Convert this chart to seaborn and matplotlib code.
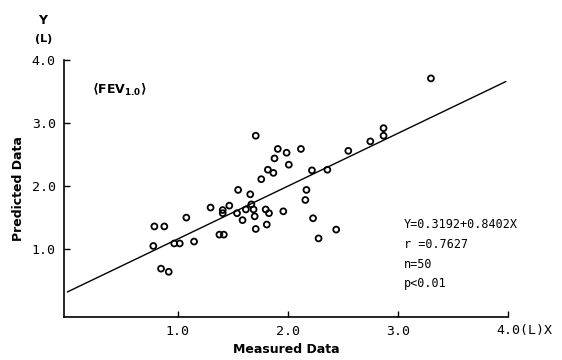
import matplotlib
matplotlib.use("Agg")
import matplotlib.pyplot as plt
import matplotlib.transforms as mtransforms
import seaborn as sns
import pandas as pd

# measured (x) vs predicted (y) FEV1.0
measured = [1.71, 1.91, 1.99, 2.12, 1.88, 2.01, 1.82, 1.87, 2.22, 2.36,
            1.76, 1.55, 1.66, 2.17, 2.16, 1.30, 1.41, 1.47, 1.41, 1.54,
            1.62, 1.67, 1.69, 1.80, 1.83, 1.96, 1.70, 1.59, 1.81, 1.71,
            1.08, 0.79, 0.88, 2.23, 1.38, 1.42, 0.78, 0.97, 1.02, 1.15,
            2.28, 2.44, 0.85, 0.92, 3.30, 2.87, 2.87, 2.75, 2.55]
predicted = [2.80, 2.59, 2.53, 2.59, 2.44, 2.34, 2.26, 2.21, 2.25, 2.26,
             2.11, 1.94, 1.87, 1.94, 1.78, 1.66, 1.62, 1.69, 1.57, 1.57,
             1.63, 1.71, 1.63, 1.63, 1.57, 1.60, 1.52, 1.46, 1.39, 1.32,
             1.50, 1.36, 1.36, 1.49, 1.23, 1.23, 1.05, 1.09, 1.09, 1.12,
             1.17, 1.31, 0.69, 0.64, 3.71, 2.92, 2.80, 2.71, 2.56]

# regression line endpoints (Y = 0.3192 + 0.8402X)
fit_x = [0.0, 3.98]
fit_y = [0.32, 3.66]

x_ticks = [1.0, 2.0, 3.0, 4.0]
x_ticklabels = ["1.0", "2.0", "3.0", ""]
y_ticks = [1.0, 2.0, 3.0, 4.0]
y_ticklabels = ["1.0", "2.0", "3.0", "4.0"]
stats_lines = ["Y=0.3192+0.8402X", "r =0.7627", "n=50", "p<0.01"]

df = pd.DataFrame({"Measured": measured, "Predicted": predicted})
fit = pd.DataFrame({"x": fit_x, "y": fit_y})

sns.set_style("ticks")
plt.rcParams["font.family"] = ["DejaVu Sans"]
for key in ["text.color", "axes.labelcolor", "xtick.color", "ytick.color", "axes.edgecolor"]:
    plt.rcParams[key] = "black"
mono = "DejaVu Sans Mono"

fig = plt.figure(figsize=(5.62, 3.6), dpi=100)
ax = fig.add_axes([0.114, 0.119, 0.790, 0.714])

sns.lineplot(data=fit, x="x", y="y", color="black", linewidth=1.0, ax=ax)
sns.scatterplot(data=df, x="Measured", y="Predicted", s=18, facecolor="none",
                edgecolor="black", linewidth=1.3, ax=ax)

ax.set_xlim(-0.03, 4.0)
ax.set_ylim(-0.08, 4.0)
sns.despine(ax=ax)
for sp in ["left", "bottom"]:
    ax.spines[sp].set_linewidth(1.2)

ax.set_xticks(x_ticks)
ax.set_xticklabels(x_ticklabels, family=mono, fontsize=9.5)
ax.set_yticks(y_ticks)
ax.set_yticklabels(y_ticklabels, family=mono, fontsize=9.5)
ax.tick_params(direction="in", length=4, width=1.0, pad=6)

ax.set_xlabel("Measured Data", fontsize=9, fontweight="bold", labelpad=3)
ax.set_ylabel("Predicted Data", fontsize=9, fontweight="bold", labelpad=5)

# 4.0(L)X label at the end of the x axis
trans = mtransforms.blended_transform_factory(ax.transData, ax.transAxes)
ax.text(3.89, -0.025, "4.0(L)X", transform=trans, family=mono, fontsize=9.5,
        ha="left", va="top")

# Y (L) label above the y axis
fig.text(43 / 562, 1 - 20 / 360, "Y", fontsize=9, fontweight="bold",
         ha="center", va="center")
fig.text(44 / 562, 1 - 39 / 360, "(L)", fontsize=8, fontweight="bold",
         ha="center", va="center")

ax.text(0.063, 0.883, r"⟨FEV$_{\mathbf{1.0}}$⟩", transform=ax.transAxes,
        fontsize=9, fontweight="bold", ha="left", va="center")

for i, line in enumerate(stats_lines):
    fig.text(404 / 562, 1 - (225 + i * 19.5) / 360, line, family=mono,
             fontsize=8.5, ha="left", va="center")

fig.savefig("out.png", dpi=100, facecolor="white")
